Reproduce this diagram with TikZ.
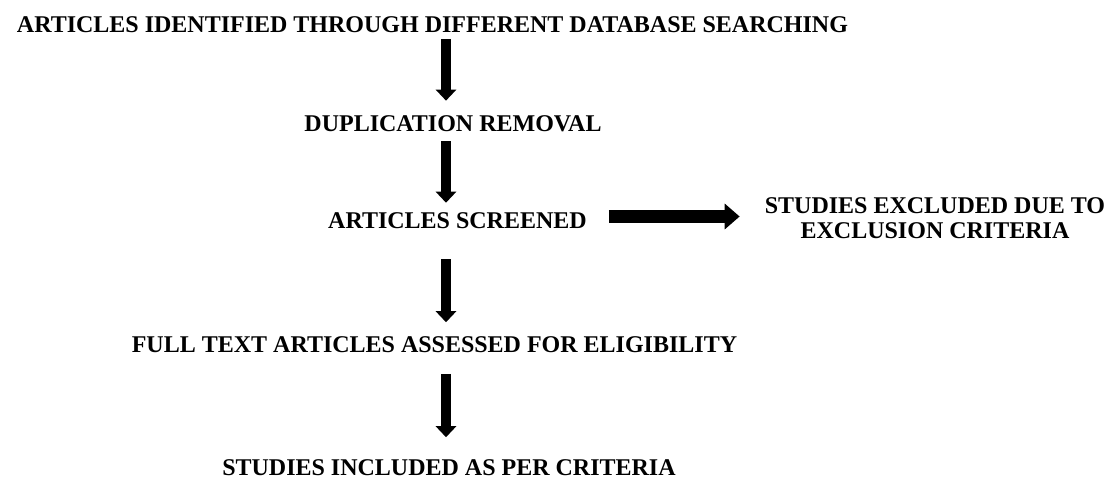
\documentclass[tikz,border=0pt]{standalone}
\usepackage{fontspec}
\setmainfont{Liberation Serif}
\usetikzlibrary{arrows.meta,positioning}
\tikzset{
        stepnode/.style={align=center,inner sep=0pt,font=\bfseries\fontsize{24}{25}\selectfont},
        % Vertical block arrows
        down_arrow/.style={line width=10pt,-{Triangle[width=20pt,length=11pt]}},
        % Horizontal block arrow
        side_arrow/.style={line width=13pt,-{Triangle[width=25pt,length=15pt]}}
}
\begin{document}
\begin{tikzpicture}[x=1pt,y=-1pt]
            \useasboundingbox (0,0) rectangle (1110,479);
            \node[stepnode] (title) at (432.5,24.5) {ARTICLES IDENTIFIED THROUGH DIFFERENT DATABASE SEARCHING};
            \node[stepnode] (dup) at (453,124) {DUPLICATION REMOVAL};
            \node[stepnode] (screened) at (457.5,221) {ARTICLES SCREENED};
            \node[stepnode] (excluded) at (935,218) {STUDIES EXCLUDED DUE TO\\EXCLUSION CRITERIA};
            \node[stepnode] (fulltext) at (434.5,344.5) {FULL TEXT ARTICLES ASSESSED FOR ELIGIBILITY};
            \node[stepnode] (included) at (449,467.5) {STUDIES INCLUDED AS PER CRITERIA};
            \coordinate (axis) at (446,0);
            \draw[down_arrow, shorten <=6pt, shorten >=15pt] (title.south -| axis) -- (dup.north -| axis);
            \draw[down_arrow, shorten <=9pt, shorten >=10pt] (dup.south -| axis) -- (screened.north -| axis);
            \draw[down_arrow, shorten <=30pt, shorten >=14pt] (screened.south -| axis) -- (fulltext.north -| axis);
            \draw[down_arrow, shorten <=21pt, shorten >=22pt] (fulltext.south -| axis) -- (included.north -| axis);
            \draw[side_arrow, shorten <=22pt, shorten >=25pt] ([yshift=4.5pt]screened.east) -- ([yshift=4.5pt]screened.east -| excluded.west);
\end{tikzpicture}
\end{document}
